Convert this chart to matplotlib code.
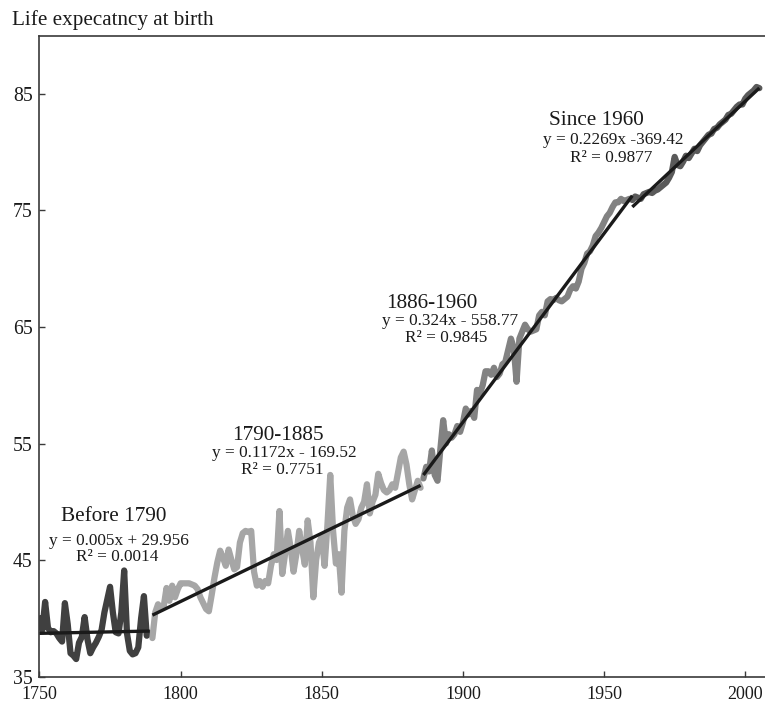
"""Life expectancy at birth, 1750-2005, split into four regimes.

Each regime is drawn in its own shade of grey with its fitted linear trend
(equation and R² as reported) laid over it in black.
"""
import matplotlib
matplotlib.use("Agg")
import matplotlib.pyplot as plt
import numpy as np

# --- series values, one per year -------------------------------------------
YEARS_PRE1790 = list(range(1750, 1790))
LE_PRE1790 = [
    40.0, 39.0, 41.4, 39.2, 38.8, 38.9, 38.7, 38.3, 38.0, 41.3,
    39.5, 37.0, 36.8, 36.5, 37.9, 38.4, 40.1, 38.2, 37.0, 37.5,
    37.9, 38.4, 39.0, 40.5, 41.6, 42.7, 40.5, 38.8, 38.7, 40.5,
    44.1, 38.7, 37.2, 36.9, 37.0, 37.5, 40.0, 41.9, 38.5, 38.7,
]

YEARS_1790_1885 = list(range(1790, 1886))
LE_1790_1885 = [
    38.3, 40.5, 41.2, 40.8, 41.0, 42.6, 41.5, 42.8, 41.8, 42.5,
    43.0, 43.0, 43.0, 43.0, 42.9, 42.8, 42.5, 41.8, 41.3, 40.8,
    40.6, 42.0, 43.5, 44.8, 45.8, 45.2, 44.5, 45.9, 45.0, 44.2,
    44.4, 46.5, 47.3, 47.5, 47.4, 47.5, 44.0, 42.8, 43.2, 42.7,
    43.2, 43.0, 44.5, 45.5, 45.0, 49.2, 43.8, 45.5, 47.5, 46.0,
    44.0, 45.5, 47.5, 46.0, 44.6, 48.4, 46.5, 41.8, 45.0, 46.5,
    47.0, 44.5, 48.0, 52.3, 47.5, 44.7, 45.5, 42.2, 47.5, 49.5,
    50.2, 48.8, 48.1, 48.5, 49.5, 50.0, 51.5, 49.0, 50.0, 50.6,
    52.4, 51.6, 51.0, 50.8, 51.0, 51.5, 51.2, 52.5, 53.8, 54.3,
    53.2, 51.5, 50.2, 51.0, 51.8, 51.2,
]

YEARS_1886_1960 = list(range(1886, 1961))
LE_1886_1960 = [
    52.0, 53.0, 52.6, 54.4, 52.3, 51.8, 54.5, 57.0, 55.0, 55.8,
    55.5, 55.8, 56.5, 56.0, 56.8, 58.0, 57.5, 57.8, 57.2, 59.6,
    59.3, 60.0, 61.2, 61.2, 60.9, 61.5, 60.7, 61.0, 61.8, 62.0,
    63.0, 64.0, 63.2, 60.3, 64.0, 64.6, 65.2, 64.8, 64.6, 64.7,
    64.8, 66.0, 66.3, 66.0, 67.2, 67.4, 67.3, 67.5, 67.3, 67.2,
    67.4, 67.6, 68.2, 68.5, 68.3, 68.9, 70.0, 70.5, 71.3, 71.5,
    72.0, 72.8, 73.1, 73.5, 74.0, 74.5, 74.8, 75.3, 75.7, 75.7,
    76.0, 75.8, 75.9, 76.0, 76.0,
]

YEARS_SINCE1960 = list(range(1960, 2006))
LE_SINCE1960 = [
    75.9, 76.2, 76.1, 76.0, 76.4, 76.5, 76.6, 76.5, 76.7, 76.8,
    77.0, 77.2, 77.4, 77.8, 78.3, 79.6, 78.9, 78.8, 79.2, 79.7,
    79.5, 79.9, 80.3, 80.1, 80.6, 80.9, 81.2, 81.5, 81.6, 82.0,
    82.1, 82.4, 82.6, 82.8, 83.2, 83.3, 83.6, 83.9, 84.1, 84.1,
    84.6, 84.9, 85.1, 85.3, 85.6, 85.5,
]

# --- reported linear fits: (slope, intercept, R²) --------------------------
FIT_SLOPES = [0.005, 0.1172, 0.324, 0.2269]
FIT_INTERCEPTS = [29.956, -169.52, -558.77, -369.42]
FIT_R2 = ["0.0014", "0.7751", "0.9845", "0.9877"]
FIT_EQUATIONS = [
    "y = 0.005x + 29.956",
    "y = 0.1172x - 169.52",
    "y = 0.324x - 558.77",
    "y = 0.2269x -369.42",
]
PERIOD_NAMES = ["Before 1790", "1790-1885", "1886-1960", "Since 1960"]

Y_TICKS = [35, 45, 55, 65, 75, 85]
X_TICKS = [1750, 1800, 1850, 1900, 1950, 2000]

SERIES_COLOURS = ["#404040", "#a6a6a6", "#828282", "#5a5a5a"]
TREND_COLOUR = "#1a1a1a"
SPINE_COLOUR = "#3a3a3a"
FONT = ["Liberation Serif", "DejaVu Serif"]

# where each period's caption sits: (title x, title y, eq x, eq y, r2 x, r2 y)
CAPTION_POS = [
    (1776.2, 48.7, 1778.2, 46.6, 1777.6, 45.3),
    (1834.6, 55.7, 1836.7, 54.15, 1836.0, 52.7),
    (1889.1, 67.0, 1895.3, 65.5, 1894.1, 64.05),
    (1947.3, 82.7, 1953.4, 81.05, 1952.5, 79.5),
]


def main():
    plt.rcParams["font.family"] = FONT

    fig = plt.figure(figsize=(7.65, 7.02), dpi=100)
    ax = fig.add_axes([0.0516, 0.0363, 0.9484, 0.9128])

    periods = [
        (YEARS_PRE1790, LE_PRE1790),
        (YEARS_1790_1885, LE_1790_1885),
        (YEARS_1886_1960, LE_1886_1960),
        (YEARS_SINCE1960, LE_SINCE1960),
    ]

    for i, (yrs, le) in enumerate(periods):
        ax.plot(yrs, le, color=SERIES_COLOURS[i], lw=4.5,
                solid_joinstyle="round", solid_capstyle="round", zorder=2)

    for i, (yrs, _) in enumerate(periods):
        x = np.array([yrs[0], yrs[-1]], dtype=float)
        y = FIT_SLOPES[i] * x + FIT_INTERCEPTS[i]
        ax.plot(x, y, color=TREND_COLOUR, lw=2.4, solid_capstyle="butt", zorder=3)

        tx, ty, ex, ey, rx, ry = CAPTION_POS[i]
        ax.text(tx, ty, PERIOD_NAMES[i], fontsize=15.3, ha="center", va="center",
                color="#1a1a1a")
        ax.text(ex, ey, FIT_EQUATIONS[i], fontsize=12.4, ha="center", va="center",
                color="#1a1a1a")
        ax.text(rx, ry, f"R² = {FIT_R2[i]}", fontsize=12.4, ha="center",
                va="center", color="#1a1a1a")

    ax.set_xlim(1750, 2007)
    ax.set_ylim(35, 90)
    ax.set_xticks(X_TICKS)
    ax.set_yticks(Y_TICKS)
    ax.tick_params(axis="both", direction="in", length=4, width=1.0,
                   color=SPINE_COLOUR, labelcolor="#1a1a1a")
    ax.tick_params(axis="y", labelsize=14.2, pad=5)
    ax.tick_params(axis="x", labelsize=13, pad=7)

    for side in ("left", "bottom", "top"):
        ax.spines[side].set_color(SPINE_COLOUR)
        ax.spines[side].set_linewidth(1.2)
    ax.spines["right"].set_visible(False)

    fig.text(12 / 765, 1 - 20 / 702, "Life expecatncy at birth", fontsize=15.2,
             ha="left", va="center", color="#1a1a1a")

    fig.savefig("out.png", dpi=100)
    plt.close(fig)


if __name__ == "__main__":
    main()
